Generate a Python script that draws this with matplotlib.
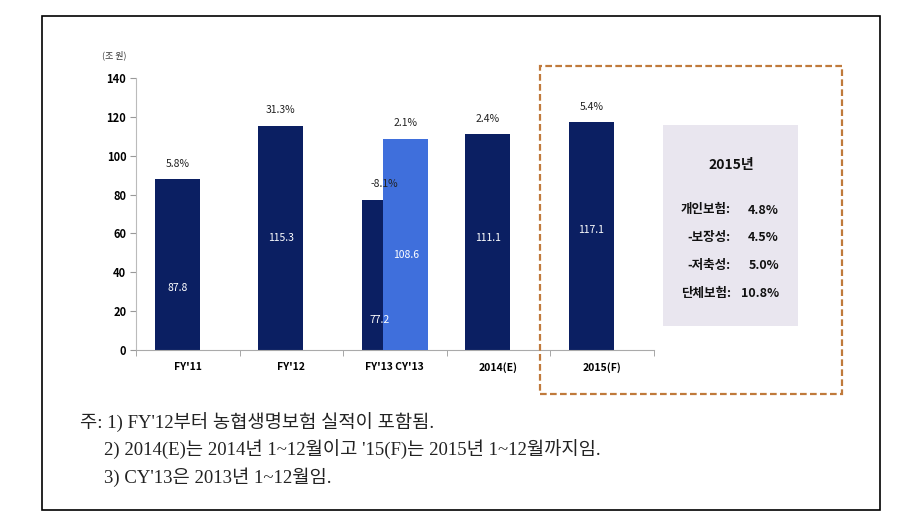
import matplotlib
matplotlib.use("Agg")
import matplotlib.pyplot as plt
from matplotlib.patches import Rectangle
import numpy as np

# ---- data ----
categories = ["FY'11", "FY'12", "FY'13 CY'13", "2014(E)", "2015(F)"]
fy_values = [87.8, 115.3, 77.2, 111.1, 117.1]
fy_growth = ["5.8%", "31.3%", "-8.1%", "2.4%", "5.4%"]
cy_index = 2
cy_value = 108.6
cy_growth = "2.1%"
yticks = [0, 20, 40, 60, 80, 100, 120, 140]
box_title = "2015년"
box_labels = ["개인보험", "-보장성", "-저축성", "단체보험"]
box_values = ["4.8%", "4.5%", "5.0%", "10.8%"]
notes = [
    "주: 1) FY'12부터 농협생명보험 실적이 포함됨.",
    "2) 2014(E)는 2014년 1~12월이고 '15(F)는 2015년 1~12월까지임.",
    "3) CY'13은 2013년 1~12월임.",
]

# layout (label positions inside bars, in data units)
fy_label_y = [32, 57.6, 15.4, 57.6, 61.8]
cy_label_y = 49

W, H = 920, 528
fig = plt.figure(figsize=(W / 100, H / 100), dpi=100)
fig.patch.set_facecolor("white")

def fx(px):
    return px / W

def fy(py):
    return 1 - py / H

NAVY = "#0b1f62"
LIGHT = "#3f6fdc"
sans = ["Liberation Sans Narrow", "Noto Sans CJK KR", "DejaVu Sans"]
serif = ["Liberation Serif", "Noto Sans CJK KR", "DejaVu Sans"]

ax = fig.add_axes([fx(136), fy(350), fx(653.5) - fx(136), fy(78) - fy(350)])
x = np.arange(len(categories))
bw = 0.435
off_dark = -0.101
off_light = 0.106

ax.bar(x + off_dark, fy_values, width=bw, color=NAVY, zorder=2)
ax.bar([cy_index + off_light], [cy_value], width=bw, color=LIGHT, zorder=3)

for i, (v, g, ly) in enumerate(zip(fy_values, fy_growth, fy_label_y)):
    ax.text(i + off_dark, v + 8, g, ha="center", va="center", fontsize=7.5,
            family=sans, color="#222222")
    ax.text(i + off_dark + (-0.05 if i == cy_index else 0), ly, f"{v:.1f}",
            ha="center", va="center", fontsize=7.5, family=sans, color="white", zorder=4)
ax.text(cy_index + off_light, cy_value + 8, cy_growth, ha="center", va="center",
        fontsize=7.5, family=sans, color="#222222")
ax.text(cy_index + off_light, cy_label_y, f"{cy_value:.1f}", ha="center", va="center",
        fontsize=7.5, family=sans, color="white", zorder=4)

ax.set_xlim(-0.5, len(categories) - 0.5)
ax.set_ylim(0, 140)
ax.set_yticks(yticks)
ax.set_yticklabels([str(t) for t in yticks], family=sans, fontsize=8, fontweight="bold")
ax.set_xticks(x)
ax.set_xticklabels(categories, family=sans, fontsize=7.5, fontweight="bold")
ax.set_xticks(np.arange(-0.5, len(categories)), minor=True)
ax.tick_params(axis="x", which="major", length=0, pad=9)
ax.tick_params(axis="x", which="minor", length=4, direction="out", color="#999999")
ax.tick_params(axis="y", length=4, direction="out", color="#999999", pad=3)
for s in ["top", "right"]:
    ax.spines[s].set_visible(False)
ax.spines["left"].set_color("#bbbbbb")
ax.spines["bottom"].set_color("#aaaaaa")

fig.text(fx(114), fy(55), "(조 원)", ha="center", va="center", fontsize=6.5,
         family=sans, color="#333333")

# outer frame
fig.patches.append(Rectangle((fx(42), fy(510)), fx(880) - fx(42), fy(16) - fy(510),
                             transform=fig.transFigure, fill=False, edgecolor="black",
                             linewidth=1.2))
# dashed highlight box
fig.patches.append(Rectangle((fx(540), fy(394)), fx(842) - fx(540), fy(66) - fy(394),
                             transform=fig.transFigure, fill=False, edgecolor="#c07a3c",
                             linewidth=1.6, linestyle=(0, (3, 1.5))))
# grey info box
fig.patches.append(Rectangle((fx(663), fy(326)), fx(798) - fx(663), fy(125) - fy(326),
                             transform=fig.transFigure, facecolor="#e9e6ef",
                             edgecolor="none"))
fig.text(fx(731), fy(165), box_title, ha="center", va="center", fontsize=10,
         fontweight="bold", family=sans, color="#111111")
for k, (lab, val) in enumerate(zip(box_labels, box_values)):
    yy = 210 + k * 27.7
    fig.text(fx(731), fy(yy), lab + ":", ha="right", va="center", fontsize=9,
             fontweight="bold", family=sans, color="#111111")
    fig.text(fx(779), fy(yy), val, ha="right", va="center", fontsize=9,
             fontweight="bold", family=sans, color="#111111")

# footnotes
note_pos = [(80, 423), (104, 450), (104, 477)]
for (px, py), t in zip(note_pos, notes):
    fig.text(fx(px), fy(py), t, ha="left", va="center", fontsize=13.5,
             family=serif, color="#222222")

fig.savefig("out.png", dpi=100)
